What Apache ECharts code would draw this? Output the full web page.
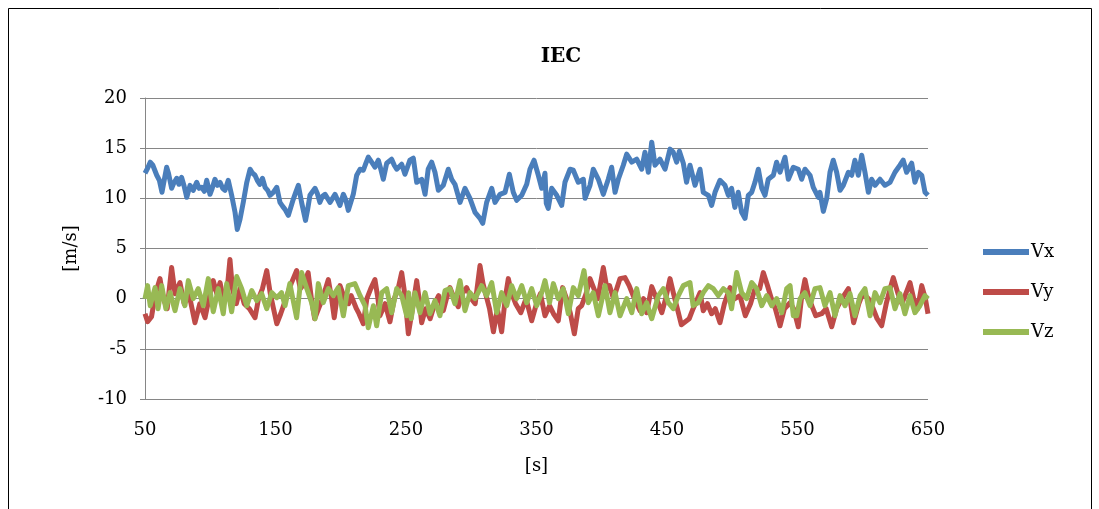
<!DOCTYPE html>
<html>
<head>
<meta charset="utf-8">
<title>IEC</title>
<script src="https://cdn.jsdelivr.net/npm/echarts@6/dist/echarts.min.js"></script>
<style>
  html, body { margin: 0; padding: 0; background: #ffffff; }
  #chart { width: 1099px; height: 509px; }
</style>
</head>
<body>
<div id="chart"></div>
<script>
// Wind speed components [m/s] over time [s]
const vxTime = [50,52,54,56,59,61,63,65,66.6,68,70.4,72,74.3,76,78,80,82,84.5,87,89.6,91.5,93.4,95.5,97.3,99.8,101.5,103.6,105.5,107.5,109.5,111.3,113.8,116.4,119,120.7,122.8,125.3,128,130.5,132.5,134.3,136,138,140,142,144,145.8,148.3,151,153.4,155.5,157.3,159.8,161.5,163.6,165.5,167.5,170,173,174.5,176.4,180.3,182,184,186,188,191.8,195.6,199.4,202,204,205.8,209.6,212.2,214.8,217.3,219,221.1,223.7,226.2,228.8,230.5,232.6,235.2,239,241,242.9,246.7,249.2,253,255.6,258.2,262,264.6,267,269.7,272.2,274.8,278.6,282.4,285,287.5,291.4,295.2,299,302.9,306.7,308.8,311.8,315.7,318.2,322,325.9,329.2,332.2,334.8,338.7,342.5,345,348.1,351.4,354,356.5,357.5,359,361.6,365.5,369.3,371.8,375.7,378.2,382,385.9,387.2,391,393.5,397.4,401.2,405,407.6,410.2,412.7,416.5,419.1,423,426.8,430.6,433.1,435.7,438.3,440.8,444.6,448.5,452.3,454.8,457.4,459.5,462.5,465,467.6,471.5,475.3,477.8,481.7,484.2,486.8,490.6,494.4,497,499.5,502,504.6,507.2,509.8,512.3,514.9,517.4,520,522.6,525.1,527.6,531.5,534,536.6,540.4,543,546.8,550.6,553.2,555.7,559.6,562.1,566,567.2,569.8,572.4,574.9,577.4,580,582.6,585.1,589,591.5,594,596.6,599.2,601.7,604.3,606.8,609.4,613.2,617,620.9,624.7,628.5,631,633.6,637.5,640,642.6,645.2,647.7,650];
const vxValues = [12.5,13.0,13.6,13.3,12.3,11.8,10.6,12.0,13.1,12.5,11.0,11.5,12.0,11.4,12.1,11.2,10.1,11.3,10.8,11.6,11.0,11.1,10.7,11.8,10.4,11.0,11.9,11.3,11.6,11.0,10.8,11.8,10.3,8.6,6.9,7.9,9.6,11.6,12.9,12.5,12.3,11.8,11.4,12.0,11.1,10.8,10.3,10.6,11.1,9.6,9.2,8.9,8.3,9.0,9.9,10.6,11.3,9.6,7.8,8.8,10.3,11.0,10.5,9.6,10.2,10.4,9.6,10.4,9.3,10.4,9.8,8.8,10.4,12.3,12.9,12.8,13.4,14.1,13.6,13.1,13.8,13.0,11.9,13.5,13.9,13.3,12.9,13.4,12.4,13.8,14.0,11.6,11.9,10.4,12.9,13.6,12.6,10.8,11.3,12.9,11.9,11.4,9.6,11.0,10.0,8.6,8.0,7.5,9.6,11.0,9.6,10.4,10.6,12.4,10.6,9.8,10.3,11.4,12.9,13.8,12.3,11.0,12.5,9.5,9.0,11.0,10.3,9.3,11.6,12.9,12.8,11.6,11.9,10.0,11.3,12.9,11.9,10.4,11.9,13.1,10.6,11.9,13.3,14.4,13.6,13.9,12.9,14.6,12.6,15.6,13.3,13.9,12.9,14.9,14.6,13.6,14.7,13.5,11.6,13.3,11.3,12.9,10.6,10.3,9.3,10.6,11.8,11.3,10.3,11.0,9.1,10.6,8.6,8.0,10.3,10.6,11.6,12.9,11.0,10.3,11.9,12.3,13.6,12.6,14.1,11.9,13.1,12.9,11.9,12.9,12.3,11.1,10.1,10.6,8.7,10.0,12.6,13.8,12.6,10.8,11.3,12.6,12.3,13.8,12.3,14.3,12.6,10.6,11.9,11.3,11.9,11.3,11.6,12.6,13.3,13.8,12.6,13.5,11.6,12.6,12.3,10.6,10.3];

const vyTime = [50,52,55,58,61.5,64,67,70.4,73,76.8,80,84,88.3,92,96,99,102.3,105,107.5,110,113,115.1,117,120,122.8,126,130,134.3,137,140,143.3,146,148.5,151,154,158,162,166.2,169,172,175,177.5,180,183,186,190.5,193,195,197,199.4,203,206,208,212,214,217.3,220,223,226.2,228.5,230,234,237.7,241,244,246.7,249,251.8,255,258.2,260,262,265,268.5,272,275,278.6,281,283.7,287,290,293,296.5,300,303,306.7,309,312,314,317,320,323.3,326,328.4,331,334,338,342,346.3,350,353,356.5,360,363,366.7,370,373,376,379,382,384.6,388,391,394,397,401.2,404,406,409,414,417.8,421,425,429.3,432,434.4,438.3,442,446,449,452.3,455,458.7,461,464,467,470,475.3,477.8,481,484.2,487,490.6,494,498.3,502,505.9,510,514,517.4,521,523.8,527,530,533,536.6,540,544.3,547,550.6,553,555.7,558,560.9,564,568.5,572,576.2,580,584,589,593,597,600,604.3,608,611,614.5,618,621,623.4,627,630,633,636.2,639,642,645.2,648,650];
const vyValues = [-1.5,-2.3,-1.8,0.5,2.0,0.0,-1.0,3.1,0.5,1.6,-0.5,0.3,-2.4,-0.5,-1.9,0.0,1.8,0.5,1.6,0.0,1.0,3.9,1.0,-0.5,1.0,-0.5,-1.0,-1.9,0.0,1.0,2.8,0.5,-1.0,-2.5,-1.5,0.0,1.5,2.8,1.0,1.5,2.6,0.0,-2.0,-1.0,0.0,1.9,0.0,-1.9,0.0,1.3,0.0,-0.5,0.3,-1.0,-1.5,-2.5,0.0,1.0,1.9,0.0,-1.7,-0.5,-2.3,0.0,1.0,2.6,0.5,-3.5,-1.0,1.8,0.0,-2.4,-1.0,-2.0,-0.5,0.3,-1.2,0.0,1.1,0.0,-0.8,0.5,1.1,0.0,-0.5,3.3,1.5,0.0,-1.0,-3.3,-1.0,-3.3,0.0,2.0,0.5,-0.5,-1.4,0.0,-2.2,-0.5,0.5,-1.7,-0.7,-1.5,-2.2,1.1,0.0,-1.5,-3.5,-1.0,-0.7,0.5,2.0,1.0,0.0,3.1,1.0,1.3,0.0,2.0,2.1,1.3,0.0,-1.2,0.0,-1.4,1.2,0.0,-1.4,0.0,2.0,0.5,-1.4,-2.6,-2.3,-2.0,-1.0,0.6,-1.2,-0.5,-1.5,-1.0,-2.4,-0.5,1.1,0.0,0.3,-1.7,-0.5,1.0,1.0,2.6,1.3,0.0,-1.0,-2.7,-1.0,-0.4,-1.0,-2.8,0.0,1.9,0.5,-0.7,-1.7,-1.5,-1.0,-2.8,-1.0,0.0,1.0,-2.4,-0.5,0.5,0.0,-1.0,-2.0,-2.7,-0.5,1.0,2.1,0.5,-0.5,0.5,1.6,0.0,-1.0,1.3,0.0,-1.5];

const vzTime = [50,52,54,57.7,60,62.8,66,69.2,73,76.8,80.6,83.2,87,90.8,94.7,98.5,102.3,106.2,110,112.6,116.4,120.3,124.1,128,131.8,135.6,139.4,143.3,147.1,151,154.6,157.3,161,166.2,170,174,177.7,180.3,182.8,186.6,190.5,194.3,198.1,202,205.8,210.9,214.8,218.6,221.1,225,227.5,231.4,235.2,239,242.9,246.7,250.5,252,254,256.9,260.7,264.6,268.4,272.2,276,279.9,283.7,287.5,291.4,295.2,299,302.9,308,311.8,315.7,319.5,323.3,327.2,331,334.8,338.7,342.5,346.3,350.2,354,356.5,360,362.9,366.7,370.5,374.4,378.2,382,386.4,389.7,393.5,397.4,402.5,406.3,410.2,414,419.1,423,426.8,430.6,434.4,438.3,443.4,447.2,451,454.8,458.7,462.5,467.6,470,474,477.8,481.7,485.5,489.3,493.2,497,499.5,503.4,507.2,511,514.9,518.7,522.6,526.4,530.2,534,537.9,541.7,544.3,546.8,549.4,552,555.7,559.6,563.4,567.2,571,574.9,578.7,582.6,586.4,590.2,594,598,601.7,605.6,609.4,613.2,617,620.9,624.7,628.5,632.3,636.2,640,643.8,647.7,650];
const vzValues = [0.0,1.3,-0.7,1.1,-1.0,1.3,-1.0,0.6,-1.2,1.0,-0.7,1.8,0.0,1.0,-0.7,2.0,-1.3,1.0,-1.5,1.5,-1.3,2.2,1.0,-0.7,0.8,-0.2,0.5,-1.0,0.6,0.1,0.6,-0.7,1.5,-1.9,2.6,1.0,-0.4,-2.0,1.5,-0.4,1.0,0.3,1.1,-1.7,1.3,1.5,0.3,-0.7,-2.9,-0.7,-2.7,0.6,1.0,-1.4,1.0,0.3,-1.7,0.6,-2.0,0.6,-1.4,0.6,-1.5,-0.2,-1.7,0.8,1.0,-0.5,1.8,-1.2,0.6,0.0,1.3,0.3,1.6,-1.4,0.6,-0.7,1.3,0.0,1.3,-0.4,1.0,-0.7,0.6,1.8,-0.4,1.5,0.0,1.0,-1.5,1.1,0.3,2.8,-0.4,0.6,-1.7,1.3,-1.4,0.6,-1.7,0.0,-1.4,1.0,-1.5,-0.4,-2.0,0.3,1.0,-0.4,-1.0,0.3,1.3,1.6,-0.7,-0.4,0.6,1.3,1.0,0.3,1.0,0.6,-1.0,2.6,0.6,0.0,1.6,1.0,-0.7,0.3,-0.7,0.0,-1.4,1.0,1.3,-1.7,-1.7,0.0,0.6,-0.7,1.0,1.1,-0.7,0.6,-1.7,0.3,-0.7,0.5,-1.7,0.3,1.0,-1.7,0.6,-0.4,1.0,1.1,-1.0,0.5,-1.5,0.3,-1.4,-0.7,0.3,0.0];

const seriesNames = ['Vx', 'Vy', 'Vz'];
const seriesColors = ['#4A7EBB', '#BE4B48', '#98B954'];
const yTicks = { min: -10, max: 20, step: 5 };
const xTicks = { min: 50, max: 650, step: 100 };

const zip = (ts, vs) => ts.map((t, i) => [t, vs[i]]);
const seriesData = [zip(vxTime, vxValues), zip(vyTime, vyValues), zip(vzTime, vzValues)];

const serif = 'DejaVu Serif';
const chart = echarts.init(document.getElementById('chart'), null, { renderer: 'canvas' });

chart.setOption({
  backgroundColor: '#ffffff',
  animation: false,
  title: {
    text: 'IEC',
    left: 556,
    top: 42,
    textAlign: 'center',
    textStyle: { fontFamily: serif, fontWeight: 'bold', fontSize: 20, color: '#000' }
  },
  graphic: [{
    type: 'rect',
    shape: { x: 8.5, y: 8.5, width: 1083, height: 520 },
    style: { fill: 'none', stroke: '#000', lineWidth: 1 },
    silent: true
  }],
  legend: {
    orient: 'vertical',
    left: 978,
    top: 238,
    itemGap: 22,
    itemWidth: 46,
    itemHeight: 6,
    icon: 'rect',
    data: seriesNames,
    textStyle: { fontFamily: serif, fontSize: 18, color: '#000', padding: [0, 0, 0, -3] }
  },
  grid: { left: 145, right: 171, top: 98, bottom: 110 },
  xAxis: {
    type: 'value',
    min: xTicks.min,
    max: xTicks.max,
    interval: xTicks.step,
    name: '[s]',
    nameLocation: 'middle',
    nameGap: 58,
    nameTextStyle: { fontFamily: serif, fontSize: 18, color: '#000' },
    axisLine: { show: true, lineStyle: { color: '#868686', width: 1 } },
    axisTick: { show: false },
    axisLabel: { fontFamily: serif, fontSize: 18, color: '#000', margin: 22 },
    splitLine: { show: false }
  },
  yAxis: {
    type: 'value',
    min: yTicks.min,
    max: yTicks.max,
    interval: yTicks.step,
    name: '[m/s]',
    nameLocation: 'middle',
    nameGap: 65,
    nameRotate: 90,
    nameTextStyle: { fontFamily: serif, fontSize: 18, color: '#000' },
    axisLine: { show: true, lineStyle: { color: '#868686', width: 1 } },
    axisTick: { show: true, length: 5, lineStyle: { color: '#868686' } },
    axisLabel: { fontFamily: serif, fontSize: 18, color: '#000', margin: 18 },
    splitLine: { show: true, lineStyle: { color: '#868686', width: 1 } }
  },
  series: seriesNames.map((name, i) => ({
    name: name,
    type: 'line',
    data: seriesData[i],
    showSymbol: false,
    symbol: 'none',
    color: seriesColors[i],
    lineStyle: { width: 5, color: seriesColors[i], join: 'round' },
    z: 2 + i
  }))
});
</script>
</body>
</html>
